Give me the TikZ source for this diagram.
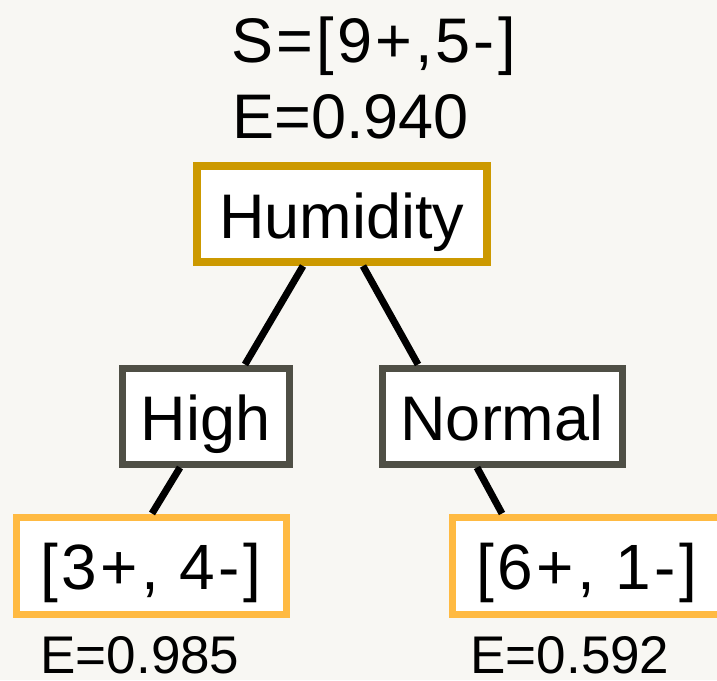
\documentclass[tikz,border=0pt]{standalone}
\usepackage{fontspec}
\setmainfont{Liberation Sans}
\usetikzlibrary{positioning,calc}
\definecolor{paper}{HTML}{F8F7F3}
\definecolor{gold}{HTML}{CC9900}
\definecolor{charcoal}{HTML}{4F4F45}
\definecolor{amber}{HTML}{FFBA42}
\tikzset{
  rootbox/.style={
    draw=gold,
    fill=white,
    line width=8pt,
    inner sep=0pt,
    minimum width=290pt,
    minimum height=96pt,
    text height=48pt,
    text depth=0pt,
    font=\fontsize{63}{70}\selectfont
  },
  branchbox/.style={
    draw=charcoal,
    fill=white,
    line width=7pt,
    inner sep=0pt,
    minimum height=96pt,
    text height=48pt,
    text depth=0pt,
    font=\fontsize{63}{70}\selectfont
  },
  leafbox/.style={
    draw=amber,
    fill=white,
    line width=7pt,
    inner sep=0pt,
    minimum width=270pt,
    minimum height=97pt,
    text height=48pt,
    text depth=0pt,
    font=\fontsize{64}{70}\selectfont\addfontfeature{LetterSpace=5}
  },
  toplabel/.style={anchor=base,inner sep=0pt,font=\fontsize{63}{70}\selectfont},
  entlabel/.style={anchor=base,inner sep=0pt,font=\fontsize{53}{60}\selectfont},
  treeedge/.style={line width=7pt,draw=black}
}

\begin{document}
\begin{tikzpicture}[x=1pt,y=-1pt]
  \fill[paper] (0,0) rectangle (717,680);
  \useasboundingbox (0,0) rectangle (717,680);

  \node[toplabel, font=\fontsize{63}{70}\selectfont\addfontfeature{LetterSpace=5}] (set) at (373.5,62) {S=[9+,5-]};
  \node[toplabel] (ent) at (350.5,138) {E=0.940};

  \node[rootbox] (hum) at (342,214) {Humidity};
  \node[branchbox, minimum width=167pt] (high) at (205.5,416) {High};
  \node[branchbox, minimum width=240pt] (normal) at (502,416) {Normal};

  \node[leafbox] (leafhigh) at (151,565.5) {[3+, 4-]};
  \node[leafbox] (leafnormal) at (587,565.5) {[6+, 1-]};

  \draw[treeedge] ([xshift=-39pt]hum.south) -- ([xshift=39.5pt]high.north);
  \draw[treeedge] ([xshift=21pt]hum.south) -- ([xshift=-84pt]normal.north);
  \draw[treeedge] ([xshift=-25.5pt]high.south) -- ([xshift=1pt]leafhigh.north);
  \draw[treeedge] ([xshift=-25pt]normal.south) -- ([xshift=-85pt]leafnormal.north);

  \node[entlabel] (enthigh) at (140,673) {E=0.985};
  \node[entlabel] (entnormal) at (570,673) {E=0.592};
\end{tikzpicture}
\end{document}
